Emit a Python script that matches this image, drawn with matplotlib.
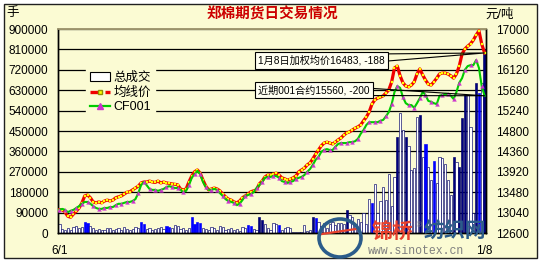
import numpy as np
import matplotlib
matplotlib.use("Agg")
import matplotlib.pyplot as plt
from matplotlib.patches import Patch, Rectangle, Ellipse
from matplotlib.lines import Line2D

# daily data, 6/1 .. 1/8 (one value per trading day)
start_label = "6/1"
end_label = "1/8"

# total volume, thousands of lots
volume_k = [40, 18, 15, 20, 14, 28, 30, 22, 26, 48,
            45, 30, 20, 12, 16, 14, 12, 20, 22, 14,
            16, 22, 14, 25, 18, 12, 16, 26, 22, 48,
            40, 18, 20, 14, 18, 22, 26, 16, 30, 28,
            22, 36, 30, 16, 20, 12, 22, 70, 40, 48,
            44, 22, 18, 12, 25, 20, 15, 30, 28, 12,
            18, 20, 14, 18, 10, 25, 20, 35, 30, 18,
            12, 70, 58, 40, 20, 14, 44, 40, 35, 12,
            22, 26, 20, 4, 3, 4, 5, 35, 8, 12,
            70, 66, 48, 30, 45, 20, 40, 48, 35, 45,
            45, 38, 101, 79, 70, 30, 60, 50, 88, 40,
            150, 132, 216, 90, 141, 203, 146, 260, 120, 247,
            424, 529, 455, 424, 384, 278, 287, 512, 520, 335,
            393, 291, 234, 318, 220, 335, 331, 304, 234, 168,
            335, 313, 291, 507, 609, 609, 468, 90, 662, 618,
            662, 810]
navy_days = [71, 72, 90, 102, 120, 123, 128, 140, 142, 143, 144, 148, 151]
blue_days = [9, 10, 29, 30, 38, 39, 47, 48, 49, 50, 67, 68, 78, 91, 111, 130, 133, 149]

# weighted average price (均线价), yuan/ton
avg_price = [13100, 13100, 13050, 12960, 12940, 13010, 13070, 13140, 13250, 13400,
             13420, 13360, 13270, 13250, 13270, 13250, 13290, 13310, 13290, 13310,
             13360, 13380, 13400, 13440, 13480, 13490, 13530, 13570, 13610, 13680,
             13700, 13700, 13720, 13700, 13690, 13720, 13680, 13700, 13680, 13670,
             13660, 13650, 13640, 13550, 13530, 13550, 13700, 13830, 13920, 13960,
             13890, 13740, 13610, 13530, 13550, 13570, 13550, 13510, 13440, 13380,
             13330, 13310, 13270, 13250, 13290, 13360, 13400, 13440, 13490, 13510,
             13530, 13660, 13720, 13810, 13850, 13850, 13870, 13890, 13850, 13790,
             13770, 13740, 13760, 13790, 13830, 13920, 13960, 14000, 14070, 14110,
             14200, 14300, 14390, 14480, 14540, 14560, 14540, 14520, 14560, 14610,
             14650, 14710, 14760, 14780, 14820, 14860, 14890, 14930, 15020, 15100,
             15210, 15380, 15470, 15510, 15530, 15560, 15620, 15690, 15860, 16160,
             16200, 15990, 15840, 15770, 15750, 15790, 15860, 16030, 16140, 16010,
             15900, 15810, 15790, 15860, 15940, 16030, 16050, 16050, 16030, 15990,
             15940, 16030, 16200, 16460, 16570, 16630, 16680, 16760, 16870, 16960,
             16671, 16483]

# CF001 contract close
cf001 = [13100, 13120, 13100, 13050, 13080, 13100, 13140, 13180, 13230, 13270,
         13270, 13230, 13180, 13140, 13120, 13120, 13140, 13140, 13160, 13160,
         13200, 13230, 13230, 13250, 13270, 13270, 13290, 13330, 13460, 13630,
         13700, 13630, 13550, 13530, 13530, 13510, 13530, 13550, 13590, 13610,
         13590, 13570, 13570, 13530, 13480, 13510, 13630, 13790, 13870, 13940,
         13870, 13700, 13590, 13530, 13530, 13550, 13530, 13460, 13400, 13330,
         13290, 13270, 13250, 13200, 13230, 13310, 13400, 13420, 13440, 13480,
         13570, 13630, 13700, 13790, 13810, 13810, 13830, 13830, 13790, 13720,
         13700, 13680, 13700, 13720, 13770, 13790, 13810, 13850, 13920, 13980,
         14070, 14180, 14240, 14350, 14390, 14410, 14390, 14390, 14460, 14520,
         14540, 14540, 14540, 14560, 14560, 14580, 14630, 14740, 14820, 14930,
         14990, 14990, 14990, 14990, 15020, 15040, 15120, 15210, 15380, 15640,
         15770, 15730, 15530, 15400, 15360, 15360, 15300, 15400, 15510, 15640,
         15580, 15450, 15430, 15400, 15380, 15560, 15580, 15600, 15600, 15560,
         15490, 15640, 15840, 15940, 16120, 16200, 16220, 16220, 16330, 16160,
         15760, 15560]

vol_ticks = np.arange(0, 900001, 90000)
price_ticks = np.arange(12600, 17001, 440)

plt.rcParams['font.family'] = ['Liberation Sans', 'Noto Sans CJK SC']

BG = '#FBFBD3'
W, H = 542, 264

fig = plt.figure(figsize=(W / 100, H / 100), dpi=100)
fig.patch.set_facecolor('white')
fig.patches.append(Rectangle((4 / W, 6 / H), 533 / W, 254 / H, transform=fig.transFigure,
                             facecolor=BG, edgecolor='#202020', lw=1, zorder=-5))

ax = fig.add_axes([58 / W, 31 / H, 428 / W, 204 / H])
ax.set_facecolor(BG)
ax2 = ax.twinx()

n = len(volume_k)
x = np.arange(n)
volume = np.array(volume_k) * 1000

fills = ['white'] * n
edges = ['#000066'] * n
for i in navy_days:
    fills[i] = '#000080'
for i in blue_days:
    fills[i] = '#0000FF'
    edges[i] = '#0000FF'

ax.bar(x, volume, width=0.78, color=fills, edgecolor=edges, linewidth=0.45, zorder=2)
ax.set_ylim(0, 900000)
ax.set_yticks(vol_ticks)
ax.set_yticklabels([str(v) for v in vol_ticks])
ax.set_xlim(-0.5, n - 0.5)
ax.set_xticks([0, n - 1])
ax.set_xticklabels([start_label, end_label])
ax.tick_params(axis='y', length=0, pad=7, labelsize=8.5)
ax.tick_params(axis='x', length=0, pad=9, labelsize=8.5)
ax.yaxis.grid(True, color='black', lw=0.9)
ax.set_axisbelow(True)

ax2.plot(x, avg_price, color='#F00000', lw=2.3, marker='s', ms=1.5,
         mfc='#FFFF00', mec='#FFFF00', mew=0.2, zorder=3)
ax2.plot(x, cf001, color='#00CC00', lw=1.5, marker='^', ms=2.8,
         mfc='#CC33CC', mec='#CC33CC', mew=0.2, markevery=2, zorder=4)
ax2.set_ylim(12600, 17000)
ax2.set_yticks(price_ticks)
ax2.set_yticklabels([str(v) for v in price_ticks])
ax2.tick_params(axis='y', length=0, pad=7.5, labelsize=8.5)

for a in (ax, ax2):
    for s in ('left', 'right', 'bottom'):
        a.spines[s].set_color('black')
        a.spines[s].set_linewidth(1)
    a.spines['top'].set_color('#A09870')
    a.spines['top'].set_linewidth(1.2)

handles = [Patch(facecolor='white', edgecolor='black', lw=0.8),
           Line2D([], [], color='#F00000', lw=2.4, ls=(0, (3, 1.5)), marker='s', ms=2.5,
                  mfc='#FFFF00', mec='#909000'),
           Line2D([], [], color='#00CC00', lw=1.6, marker='^', ms=4,
                  mfc='#CC33CC', mec='#CC33CC')]
leg = ax2.legend(handles, ['总成交', '均线价', 'CF001'], loc='upper left',
                 bbox_to_anchor=(80 / W, 1 - 62 / H), bbox_transform=fig.transFigure,
                 frameon=True, facecolor=BG, edgecolor=BG, framealpha=1, fancybox=False,
                 fontsize=9, handlelength=1.6, handletextpad=0.3, labelspacing=0.2,
                 borderpad=0.3)
leg.set_zorder(6)

box = dict(boxstyle='square,pad=0.3', fc='#FFFFF2', ec='black', lw=0.8)
wedge = dict(arrowstyle='wedge,tail_width=0.7', fc='none', ec='black', lw=0.8,
             shrinkA=0, shrinkB=0)
ax2.annotate('1月8日加权均价16483, -188', xy=(n - 1, avg_price[-1]), xycoords='data',
             xytext=(258 / W, 1 - 60.5 / H), textcoords='figure fraction',
             ha='left', va='center', fontsize=7.3, bbox=box, arrowprops=wedge, zorder=7)
ax2.annotate('近期001合约15560, -200', xy=(n - 1, cf001[-1]), xycoords='data',
             xytext=(258 / W, 1 - 90 / H), textcoords='figure fraction',
             ha='left', va='center', fontsize=7.3, bbox=box, arrowprops=wedge, zorder=7)

fig.text(272 / W, 1 - 14 / H, '郑棉期货日交易情况', color='#CC0000', fontsize=10.5,
         fontweight='bold', ha='center', va='center')
fig.text(6 / W, 1 - 13 / H, '手', fontsize=9, ha='left', va='center')
fig.text(500 / W, 1 - 15 / H, '元/吨', fontsize=9, ha='center', va='center')

# site watermark
fig.patches.append(Ellipse((340 / W, 1 - 238 / H), 42 / W, 38 / H, transform=fig.transFigure,
                           fill=False, ec='#2B5C8A', lw=2.6, zorder=9))
fig.lines.append(Line2D([322 / W, 356 / W], [1 - 234 / H, 1 - 229 / H],
                        transform=fig.transFigure, color='#E8412C', lw=1.6, zorder=9))
fig.text(372 / W, 1 - 232 / H, '锦桥', color='#E8412C', fontsize=15, fontweight='bold',
         ha='left', va='center', zorder=10)
fig.text(419 / W, 1 - 226 / H, '®', color='#808080', fontsize=6, ha='center',
         va='center', zorder=10)
fig.text(424 / W, 1 - 232 / H, '纺织网', color='#2B5C8A', fontsize=15, fontweight='bold',
         ha='left', va='center', zorder=10)
fig.text(368 / W, 1 - 251 / H, 'www.sinotex.cn', color='#808080', fontsize=8.3,
         family='Liberation Mono', ha='left', va='center', zorder=10)

fig.savefig('out.png', dpi=100, facecolor=fig.get_facecolor())
